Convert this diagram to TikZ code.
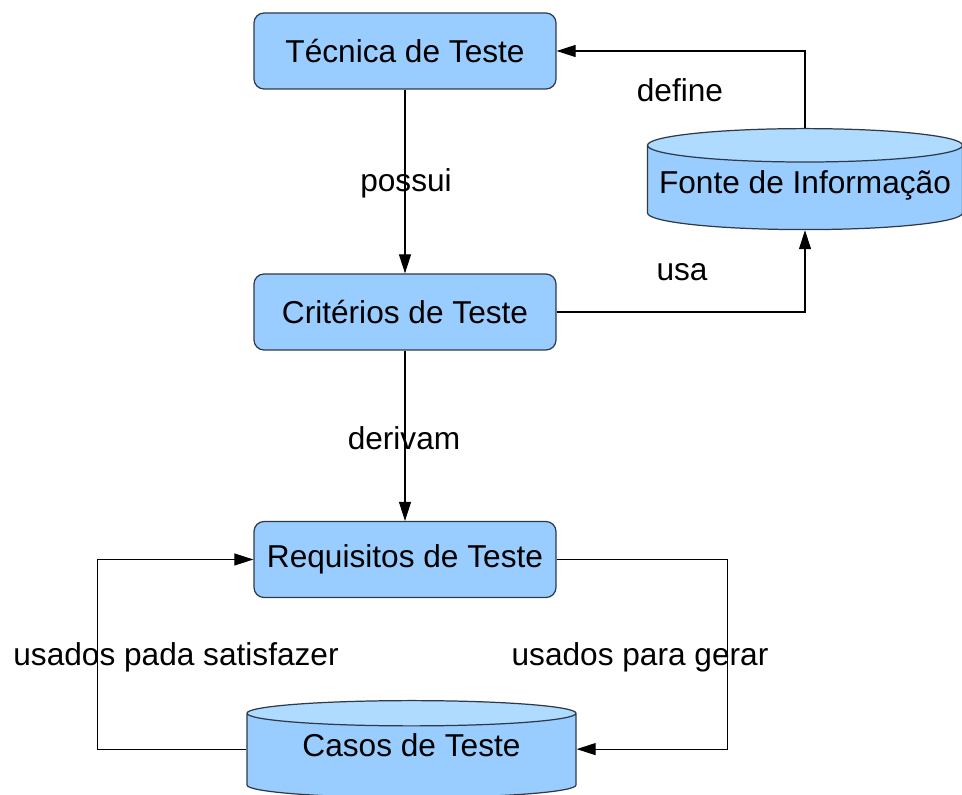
\documentclass[tikz,border=0pt]{standalone}
\usepackage{fontspec}
\setmainfont{Liberation Sans}
\usetikzlibrary{shapes.geometric,arrows.meta}
\definecolor{boxblue}{HTML}{99CCFF}
\definecolor{topblue}{HTML}{AEDBFF}
\definecolor{edgegray}{HTML}{2F3A48}

\begin{document}
\begin{tikzpicture}
[
  every node/.style={font=\fontsize{18}{21}\selectfont},
  proc/.style={draw=edgegray,line width=0.7pt,fill=boxblue,rounded corners=0.2cm,
    minimum width=6.04cm,minimum height=1.52cm},
  store/.style={cylinder,shape border rotate=90,aspect=0.11,draw=edgegray,line width=0.7pt,
    text depth=0.3cm,anchor=north,
    cylinder uses custom fill,cylinder body fill=boxblue,cylinder end fill=topblue},
  arr/.style={line width=0.6pt,-{Triangle[length=0.38cm,width=0.24cm]}},
  lbl/.style={inner sep=0pt}
]
\useasboundingbox (0,0) rectangle (19.24,15.9);

\node[proc] (tecnica) at (8.10,14.88) {Técnica de Teste};
\node[proc] (criterios) at (8.10,9.66) {Critérios de Teste};
\node[proc] (requisitos) at (8.10,4.71) {Requisitos de Teste};

\node[store,minimum width=6.3cm,minimum height=2.02cm] (fonte) at (16.1,13.34) {Fonte de Informação};
\node[store,minimum width=6.58cm,minimum height=1.94cm,text depth=0.5cm] (casos) at (8.23,1.9) {Casos de Teste};

\draw[arr] (tecnica) -- (criterios);
\draw[arr] (criterios) -- (requisitos);
\draw[arr] (fonte.north) |- (tecnica.east);
\draw[arr] (criterios.east) -| (fonte.south);
\draw[arr] (requisitos.east) -- ++(3.42,0) |- (casos.shape center -| casos.east);
\draw[arr] (casos.shape center -| casos.west) -- ++(-2.98,0) |- (requisitos.west);

\node[lbl] (possui) at (8.12,12.24) {possui};
\node[lbl] (derivam) at (8.08,7.14) {derivam};
\node[lbl] (define) at (13.6,14.1) {define};
\node[lbl] (usa) at (13.64,10.46) {usa};
\node[lbl] (satisfazer) at (3.52,2.76) {usados pada satisfazer};
\node[lbl] (gerar) at (12.8,2.76) {usados para gerar};

\end{tikzpicture}
\end{document}
